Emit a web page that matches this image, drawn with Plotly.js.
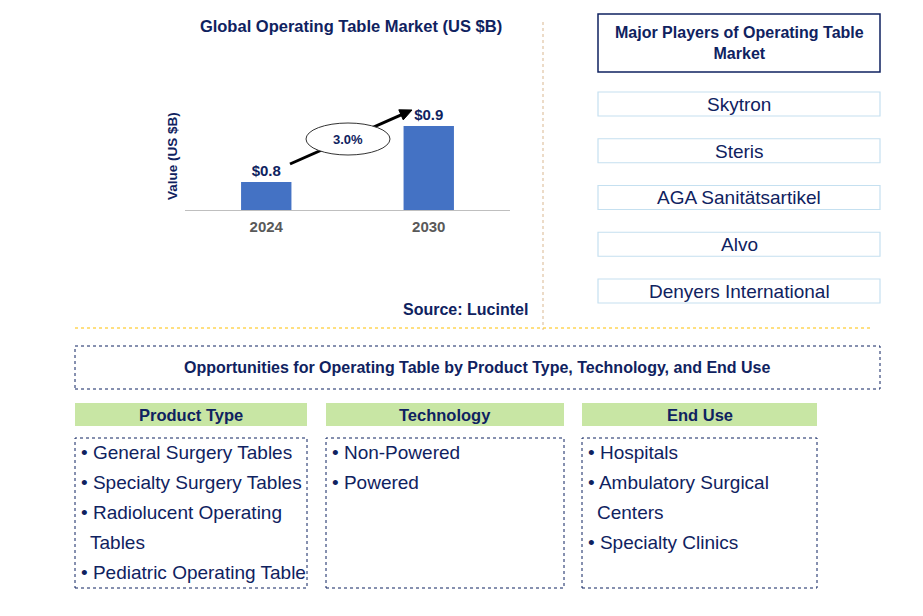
<!DOCTYPE html>
<html>
<head>
<meta charset="utf-8">
<script src="https://cdn.plot.ly/plotly-3.0.1.min.js"></script>
<style>html,body{margin:0;padding:0;background:#fff;}#chart{width:923px;height:616px;}</style>
</head>
<body>
<div id="chart"></div>
<script>
// ---- data ----
const years = ['2024', '2030'];
const marketValues = [0.8, 0.9];
const cagrLabel = '3.0%';
const chartTitle = 'Global Operating Table Market (US $B)';
const yAxisTitle = 'Value (US $B)';
const sourceText = 'Source: Lucintel';
const playersTitle = 'Major Players of Operating Table<br>Market';
const players = ['Skytron', 'Steris', 'AGA Sanitätsartikel', 'Alvo', 'Denyers International'];
const opportunitiesTitle = 'Opportunities for Operating Table by Product Type, Technology, and End Use';
const segmentHeaders = ['Product Type', 'Technology', 'End Use'];
const productTypes = ['General Surgery Tables', 'Specialty Surgery Tables', 'Radiolucent Operating\nTables', 'Pediatric Operating Table'];
const technologies = ['Non-Powered', 'Powered'];
const endUses = ['Hospitals', 'Ambulatory Surgical\nCenters', 'Specialty Clinics'];

// ---- layout helpers ----
const W = 923, H = 616;
const NAVY = '#0F2260';
const FONT = 'Arial, "Liberation Sans", sans-serif';
const px = x => x / W;
const py = y => 1 - y / H;

const shapes = [];
const annotations = [];

function rect(x0, y0, x1, y1, color, width, dash, fill) {
  shapes.push({type: 'rect', xref: 'paper', yref: 'paper', x0: px(x0), x1: px(x1), y0: py(y1), y1: py(y0),
    line: {color: color, width: width, dash: dash || 'solid'}, fillcolor: fill || 'rgba(0,0,0,0)', layer: 'above'});
}
function text(x, y, t, size, bold, xanchor, color, angle) {
  annotations.push({xref: 'paper', yref: 'paper', x: px(x), y: py(y), text: t, showarrow: false,
    xanchor: xanchor || 'center', yanchor: 'middle', align: xanchor === 'left' ? 'left' : 'center',
    textangle: angle || 0,
    font: {family: FONT, size: size, color: color || NAVY, weight: bold ? 'bold' : 'normal'}});
}

// Bar chart geometry
const plotLeft = 185, plotRight = 510, baseY = 210, plotTop = 60;
const yMin = 0.75, pxPerUnit = 560;
const yMax = yMin + (baseY - plotTop) / pxPerUnit;

// separators
shapes.push({type: 'line', xref: 'paper', yref: 'paper', x0: px(543), x1: px(543), y0: py(22), y1: py(330),
  line: {color: '#D9B790', width: 1, dash: 'dot'}});
shapes.push({type: 'line', xref: 'paper', yref: 'paper', x0: px(75), x1: px(870), y0: py(328), y1: py(328),
  line: {color: '#FFC000', width: 1, dash: 'dot'}});

// CAGR arrow (line + head) then ellipse on top
const tail = [290, 164], tip = [412, 110];
const dx = tip[0] - tail[0], dy = tip[1] - tail[1];
const len = Math.hypot(dx, dy), ux = dx / len, uy = dy / len;
const headL = 12, headW = 5.5;
const bx = tip[0] - headL * ux, by = tip[1] - headL * uy;
shapes.push({type: 'line', xref: 'paper', yref: 'paper', x0: px(tail[0]), y0: py(tail[1]), x1: px(bx + 2 * ux), y1: py(by + 2 * uy),
  line: {color: '#000', width: 3}, layer: 'above'});
const p1 = [bx - headW * uy, by + headW * ux], p2 = [bx + headW * uy, by - headW * ux];
shapes.push({type: 'path', xref: 'paper', yref: 'paper',
  path: `M ${px(tip[0])} ${py(tip[1])} L ${px(p1[0])} ${py(p1[1])} L ${px(p2[0])} ${py(p2[1])} Z`,
  fillcolor: '#000', line: {color: '#000', width: 1}, layer: 'above'});
shapes.push({type: 'circle', xref: 'paper', yref: 'paper', x0: px(306), x1: px(390), y0: py(155), y1: py(123),
  fillcolor: '#fff', line: {color: '#333', width: 1}, layer: 'above'});
text(348, 139, cagrLabel, 13, true);

// y axis title and source
text(172, 156, yAxisTitle, 13.5, true, 'center', NAVY, -90);
text(530, 309, sourceText, 16, true, 'right');

// players panel
rect(598, 14, 880, 72, NAVY, 1.5);
text(739, 43, playersTitle, 16, true);
players.forEach((p, i) => {
  const t = 92 + i * 46.75;
  rect(598, t, 880, t + 24, '#C5E0F0', 1.2);
  text(739, t + 12.5, p, 19, false);
});

// opportunities
rect(75, 346, 880, 389, NAVY, 1, 'dot');
text(478, 367, opportunitiesTitle, 16, true);

const cols = [[75, 307], [326, 564], [582, 817]];
const lists = [productTypes, technologies, endUses];
segmentHeaders.forEach((h, i) => {
  rect(cols[i][0], 403, cols[i][1], 426, '#C8E6A4', 0, 'solid', '#C8E6A4');
  shapes[shapes.length - 1].line = {width: 0};
  text((cols[i][0] + cols[i][1]) / 2, 414.5, h, 16.5, true);
  rect(cols[i][0], 438, cols[i][1], 588, NAVY, 1, 'dot');
  let line = 0;
  lists[i].forEach(item => {
    item.split('\n').forEach((part, k) => {
      const y = 452 + line * 30;
      if (k === 0) text(cols[i][0] + 4, y, '• ' + part, 19, false, 'left');
      else text(cols[i][0] + 13, y, part, 19, false, 'left');
      line++;
    });
  });
});

const data = [{
  type: 'bar', x: years, y: marketValues,
  marker: {color: '#4472C4'}, width: 0.31,
  text: marketValues.map(v => '$' + v.toFixed(1)), textposition: 'outside',
  textfont: {family: FONT, size: 15, color: NAVY, weight: 'bold'},
  cliponaxis: false, hoverinfo: 'skip'
}];

const layout = {
  width: W, height: H, margin: {l: 0, r: 0, t: 0, b: 0},
  paper_bgcolor: '#fff', plot_bgcolor: 'rgba(0,0,0,0)', showlegend: false,
  font: {family: FONT, color: NAVY},
  title: {text: chartTitle, x: px(351), y: py(26), xanchor: 'center', yanchor: 'middle', xref: 'paper', yref: 'paper',
    font: {family: FONT, size: 16.5, color: NAVY, weight: 'bold'}},
  xaxis: {domain: [px(plotLeft), px(plotRight)], type: 'category', range: [-0.5, 1.5], showline: true, linecolor: '#BFBFBF', linewidth: 1,
    ticks: '', showgrid: false, zeroline: false, fixedrange: true, ticklabelstandoff: 3,
    tickfont: {family: FONT, size: 15, color: '#595959', weight: 'bold'}},
  yaxis: {domain: [py(baseY), py(plotTop)], range: [yMin, yMax], showgrid: false, zeroline: false, showline: false,
    showticklabels: false, ticks: '', fixedrange: true},
  shapes: shapes, annotations: annotations
};

Plotly.newPlot('chart', data, layout, {displayModeBar: false, staticPlot: true});
</script>
</body>
</html>
